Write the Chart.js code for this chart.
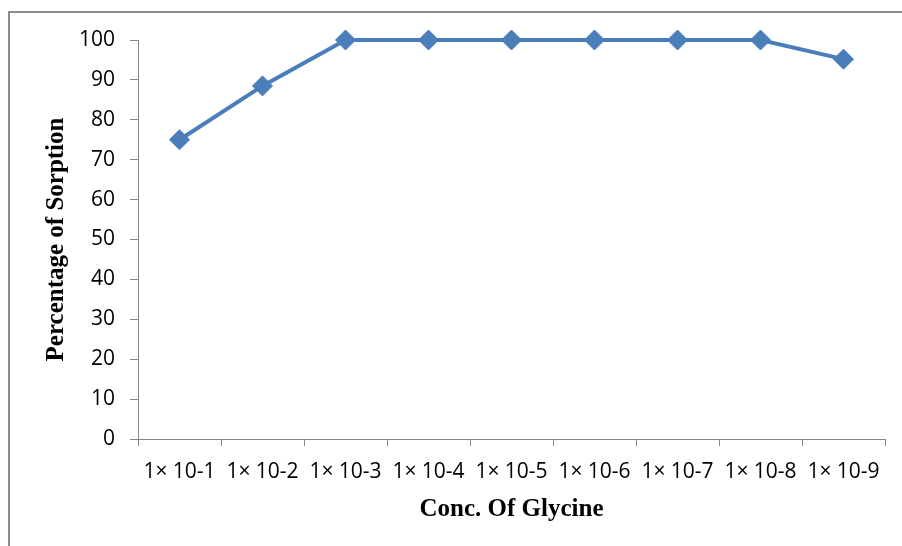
<!DOCTYPE html>
<html>
<head>
<meta charset="utf-8">
<style>
  html, body { margin: 0; padding: 0; background: #ffffff; }
  canvas { display: block; }
</style>
<script src="https://cdn.jsdelivr.net/npm/chart.js@4/dist/chart.umd.min.js"></script>
</head>
<body>
<canvas id="chart" width="902" height="546"></canvas>
<script>
// Glycine concentrations (mol/L) and percentage of sorption
const concentrations = ['1× 10-1', '1× 10-2', '1× 10-3', '1× 10-4', '1× 10-5', '1× 10-6', '1× 10-7', '1× 10-8', '1× 10-9'];
const sorption = [75, 88.5, 100, 100, 100, 100, 100, 100, 95.2];
const yTicks = [0, 10, 20, 30, 40, 50, 60, 70, 80, 90, 100];

const lineColor = '#4a7ebb';
const axisColor = '#868686';

// Thin grey frame around the chart
const framePlugin = {
  id: 'frame',
  beforeDraw(chart) {
    const ctx = chart.ctx;
    ctx.save();
    ctx.fillStyle = '#ffffff';
    ctx.fillRect(0, 0, chart.width, chart.height);
    ctx.strokeStyle = '#8c8c8c';
    ctx.lineWidth = 2;
    ctx.strokeRect(9, 12, chart.width + 10, chart.height + 10);
    ctx.restore();
  }
};

new Chart(document.getElementById('chart'), {
  type: 'line',
  data: {
    labels: concentrations,
    datasets: [{
      data: sorption,
      borderColor: lineColor,
      backgroundColor: lineColor,
      borderWidth: 4,
      pointStyle: 'rectRot',
      pointRadius: 10,
      pointBorderWidth: 1,
      pointBackgroundColor: lineColor,
      pointBorderColor: lineColor,
      tension: 0,
      clip: false
    }]
  },
  options: {
    responsive: false,
    animation: false,
    devicePixelRatio: 1,
    events: [],
    layout: { padding: { left: 0, top: 40, right: 17, bottom: 0 } },
    plugins: {
      legend: { display: false },
      tooltip: { enabled: false }
    },
    scales: {
      x: {
        type: 'category',
        offset: true,
        grid: {
          offset: true,
          drawOnChartArea: false,
          drawTicks: true,
          tickLength: 7,
          color: axisColor
        },
        border: { color: axisColor, width: 1 },
        ticks: {
          color: '#000000',
          padding: 13,
          maxRotation: 0,
          autoSkip: false,
          font: { family: 'Open Sans', size: 21 }
        },
        title: {
          display: true,
          text: 'Conc. Of Glycine',
          color: '#000000',
          font: { family: 'Liberation Serif', size: 25, weight: 'bold' },
          padding: { top: 0, bottom: 21 }
        },
        afterFit(scale) { scale.height = 107; }
      },
      y: {
        min: 0,
        max: 100,
        afterBuildTicks(scale) { scale.ticks = yTicks.map(v => ({ value: v })); },
        grid: {
          drawOnChartArea: false,
          drawTicks: true,
          tickLength: 8,
          color: axisColor
        },
        border: { color: axisColor, width: 1 },
        ticks: {
          color: '#000000',
          padding: 15,
          font: { family: 'Open Sans', size: 21 }
        },
        title: {
          display: true,
          text: 'Percentage of Sorption',
          color: '#000000',
          font: { family: 'Liberation Serif', size: 25, weight: 'bold' },
          padding: { top: 42, bottom: 0 }
        },
        afterFit(scale) { scale.width = 138; }
      }
    }
  },
  plugins: [framePlugin]
});
</script>
</body>
</html>
